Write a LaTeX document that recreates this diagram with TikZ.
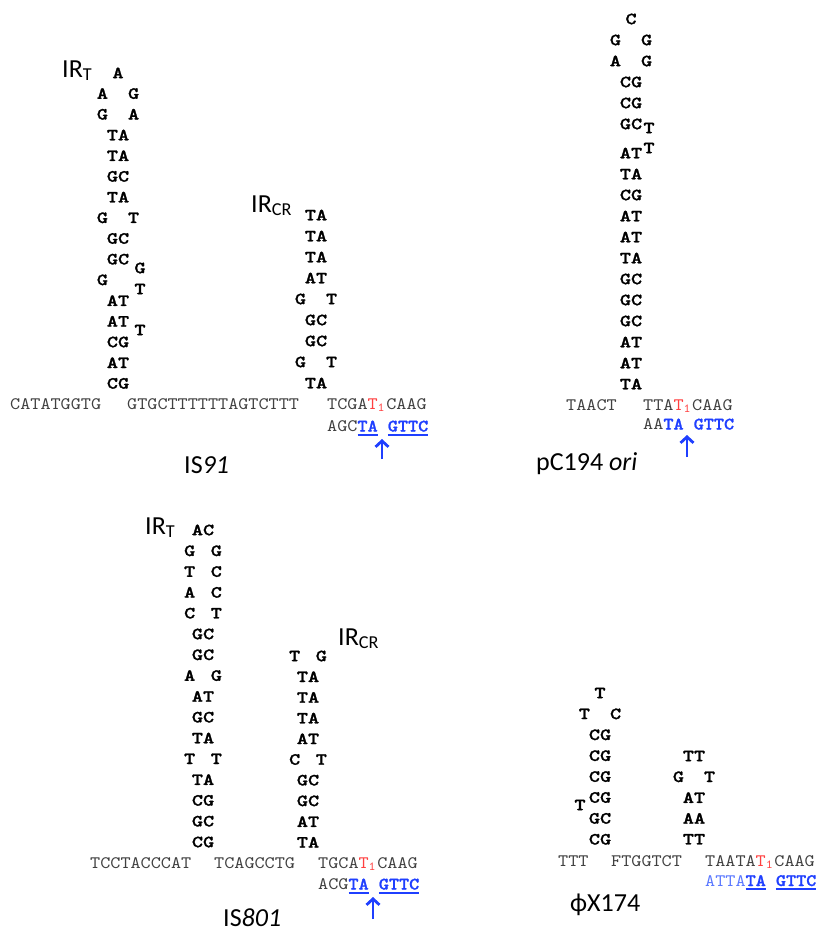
\documentclass[tikz,border=0pt]{standalone}
\usepackage{fontspec}
\usepackage{xcolor}
\usepackage{tikz}
\usetikzlibrary{arrows.meta}
\newfontfamily\seqfamily[FakeStretch=1.1]{lmmono10-regular.otf}
\newfontfamily\seqboldfamily[FakeStretch=1.1,FakeBold=1.2]{lmmonolt10-bold.otf}
\newfontfamily\stemfamily[FakeStretch=1.25,FakeBold=1.4]{lmmonolt10-bold.otf}
\newfontfamily\lblfamily{Carlito}
\definecolor{seqGray}{HTML}{404040}
\definecolor{nickRed}{HTML}{FF4040}
\definecolor{siteBlue}{HTML}{1F3FFF}
\definecolor{siteLight}{HTML}{5A78FF}
\newcommand{\stemfont}{\stemfamily\fontsize{17}{18}\selectfont}
\newcommand{\seqfont}{\seqfamily\fontsize{17.5}{20}\selectfont}
\newcommand{\lblfont}{\lblfamily\fontsize{26}{30}\selectfont}
\newcommand{\gapw}{\hspace{20pt}}
\newcommand{\gapn}{\hspace{15.5pt}}
\newcommand{\nick}{\textcolor{nickRed}{T\textsubscript{1}}\kern1pt}
\newcommand{\site}[1]{\textcolor{siteBlue}{\seqboldfamily #1}}
\newcommand{\siteul}[1]{\setbox0=\hbox{#1}\rlap{\rule[-4pt]{\wd0}{2pt}}\box0\relax}

\begin{document}
\begin{tikzpicture}[
    x=1pt, y=-1pt,
    bp/.style       = {font=\stemfont, inner sep=0pt, anchor=center},
    bulge/.style    = {font=\stemfont, inner sep=0pt, anchor=center},
    seq/.style      = {font=\seqfont, text=seqGray, inner sep=0pt, anchor=base west},
    lbl/.style      = {font=\lblfont, text=black, inner sep=0pt, anchor=base west},
    cutarrow/.style = {draw=siteBlue, line width=2.8pt, -{Straight Barb[length=6pt,width=13pt]}}
  ]
  \useasboundingbox (0,0) rectangle (817,932);

  %% IS91: IR_T hairpin, IR_CR hairpin, flanking sequence
  \node[lbl] (is91-irt) at (62,77) {IR\textsubscript{T}};
  \foreach \t [count=\i] in {A,{A\gapw G},{G\gapw A},TA,TA,GC,TA,{G\gapw T},GC,GC,{G\gapw\phantom{T}},AT,AT,CG,AT,CG}
    \node[bp] (is91t-\i) at (118,52.2+20.7*\i) {\t};
  \foreach \y/\t [count=\i] in {268/G, 289/T, 330/T}
    \node[bulge] (is91b-\i) at (140,\y) {\t};
  \node[lbl] (is91-ircr) at (251,212) {IR\textsubscript{CR}};
  \foreach \t [count=\i] in {TA,TA,TA,AT,{G\gapw T},GC,GC,{G\gapw T},TA}
    \node[bp] (is91c-\i) at (316,194+21*\i) {\t};
  \node[seq] (is91-left)  at (10,409)  {CATATGGTG};
  \node[seq] (is91-mid)   at (127,409) {GTGCTTTTTTAGTCTTT};
  \node[seq] (is91-top)   at (327,409) {TCGA\nick CAAG};
  \node[seq] (is91-bot)   at (327,431.5) {AGC\site{\siteul{TA} \siteul{GTTC}}};
  \coordinate (is91-tail) at (382,459);
  \coordinate (is91-tip)  at (382,439);
  \draw[cutarrow] (is91-tail) -- (is91-tip);
  \node[lbl] (is91-name) at (184,473) {IS\textit{91}};

  %% pC194 ori: single long hairpin
  \foreach \t [count=\i] in {C,{G\gapw G},{A\gapw G},CG,CG,GC}
    \node[bp] (pcta-\i) at (631,-2+21*\i) {\t};
  \foreach \t [count=\i] in {AT,TA,CG,AT,AT,TA,GC,GC,GC,AT,AT,TA}
    \node[bp] (pctb-\i) at (631,132+21*\i) {\t};
  \foreach \y/\t [count=\i] in {128/T, 148/T}
    \node[bulge] (pcb-\i) at (649,\y) {\t};
  \node[seq] (pc-left) at (566,410)   {TAACT};
  \node[seq] (pc-top)  at (643,410)   {TTA\nick CAAG};
  \node[seq] (pc-bot)  at (643,429.5) {AA\site{TA GTTC}};
  \coordinate (pc-tail) at (687,457);
  \coordinate (pc-tip)  at (687,435);
  \draw[cutarrow] (pc-tail) -- (pc-tip);
  \node[lbl] (pc-name) at (536,470) {pC194 \textit{ori}};

  %% IS801: IR_T and IR_CR hairpins
  \node[lbl] (is801-irt) at (145,534) {IR\textsubscript{T}};
  \foreach \t [count=\i] in {AC,{G\gapn G},{T\gapn C},{A\gapn C},{C\gapn T},GC,GC,{A\gapn G},AT,GC,TA,{T\gapn T},TA,CG,GC,CG}
    \node[bp] (is801t-\i) at (203,509.2+20.8*\i) {\t};
  \node[lbl] (is801-ircr) at (338,645) {IR\textsubscript{CR}};
  \foreach \t [count=\i] in {{T\gapn G},TA,TA,TA,AT,{C\gapn T},GC,GC,AT,TA}
    \node[bp] (is801c-\i) at (308,635.3+20.7*\i) {\t};
  \node[seq] (is801-left) at (90,868)    {TCCTACCCAT};
  \node[seq] (is801-mid)  at (214,868)   {TCAGCCTG};
  \node[seq] (is801-top)  at (318,868)   {TGCA\nick CAAG};
  \node[seq] (is801-bot)  at (318,889.5) {ACG\site{\siteul{TA} \siteul{GTTC}}};
  \coordinate (is801-tail) at (373,919);
  \coordinate (is801-tip)  at (373,897);
  \draw[cutarrow] (is801-tail) -- (is801-tip);
  \node[lbl] (is801-name) at (223,926) {IS\textit{801}};

  %% phiX174: two hairpins, no arrow
  \foreach \t [count=\i] in {T,{T\gapw C},CG,CG,CG,CG,GC,CG}
    \node[bp] (phil-\i) at (600,672.1+20.9*\i) {\t};
  \node[bulge] (phib-1) at (580,805) {T};
  \foreach \t [count=\i] in {TT,{G\gapw T},AT,AA,TT}
    \node[bp] (phir-\i) at (694,735.2+20.8*\i) {\t};
  \node[seq] (phi-left) at (558,866) {TTT};
  \node[seq] (phi-mid)  at (611,866) {FTGGTCT};
  \node[seq] (phi-top)  at (705,866) {TAATA\nick CAAG};
  \node[seq] (phi-bot)  at (705,886) {\textcolor{siteLight}{ATTA}\site{\siteul{TA} \siteul{GTTC}}};
  \node[lbl] (phi-name) at (570,911) {ϕX174};
\end{tikzpicture}
\end{document}
